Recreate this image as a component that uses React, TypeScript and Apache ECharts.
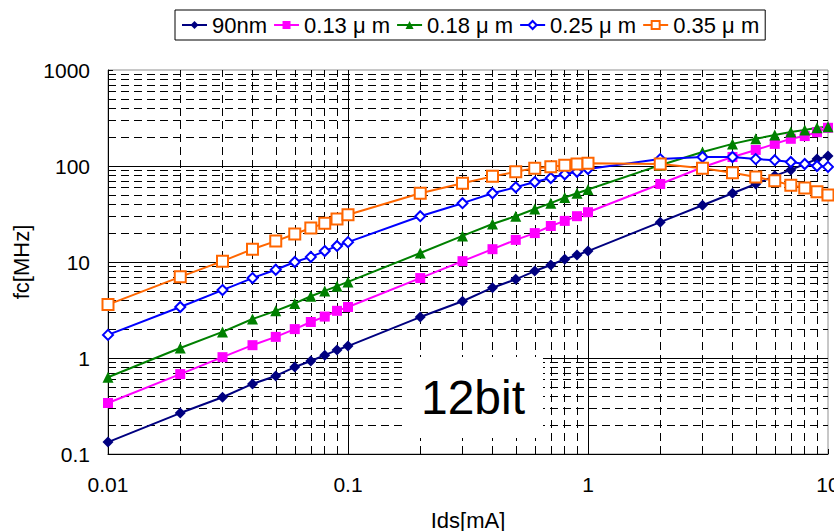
import React, { useEffect, useRef } from "react";
import * as echarts from "echarts";

const idsValues = [
  0.01, 0.02, 0.03, 0.04, 0.05, 0.06, 0.07, 0.08, 0.09, 0.1,
  0.2, 0.3, 0.4, 0.5, 0.6, 0.7, 0.8, 0.9, 1,
  2, 3, 4, 5, 6, 7, 8, 9, 10,
];

const fc90nm = [
  0.133, 0.267, 0.39, 0.537, 0.65, 0.805, 0.93, 1.07, 1.21, 1.33,
  2.67, 3.9, 5.4, 6.6, 8.05, 9.3, 10.7, 11.8, 13.0,
  26, 39, 52, 65, 79, 91, 105, 118, 127,
];
const fc013 = [
  0.34, 0.68, 1.02, 1.36, 1.66, 2.0, 2.37, 2.7, 3.1, 3.4,
  6.8, 10.2, 13.6, 17, 20, 23.7, 26.8, 30, 33,
  65, 97, 124, 147, 170, 192, 205, 225, 250,
];
const fc018 = [
  0.63, 1.27, 1.87, 2.55, 3.1, 3.7, 4.4, 5.0, 5.6, 6.2,
  12.4, 18.7, 24.9, 30, 35.6, 41, 47, 52, 57,
  102, 140, 170, 192, 210, 226, 237, 250, 256,
];
const fc025 = [
  1.74, 3.4, 5.1, 6.8, 8.3, 10, 11.3, 13, 14.7, 16.1,
  30, 41, 52, 60, 68, 75, 82, 87, 93,
  118, 124, 124, 118, 115, 110, 105, 100, 98,
];
const fc035 = [
  3.6, 7.0, 10.2, 13.6, 16.5, 19.6, 22.6, 25.4, 28, 31,
  52, 66, 78, 87, 95, 98, 102, 105, 107,
  105, 95, 85, 77, 70, 63, 59, 54, 50,
];

const seriesNames = ["90nm", "0.13μm", "0.18μm", "0.25μm", "0.35μm"];

const majorX = [0.1, 1];
const majorY = [1, 10, 100];
const minorX = [
  0.02, 0.03, 0.04, 0.05, 0.06, 0.07, 0.08, 0.09,
  0.2, 0.3, 0.4, 0.5, 0.6, 0.7, 0.8, 0.9,
  2, 3, 4, 5, 6, 7, 8, 9,
];
const minorY = [
  0.2, 0.3, 0.4, 0.5, 0.6, 0.7, 0.8, 0.9,
  2, 3, 4, 5, 6, 7, 8, 9,
  20, 30, 40, 50, 60, 70, 80, 90,
  200, 300, 400, 500, 600, 700, 800, 900,
];

const FONT = "'Liberation Sans', Arial, sans-serif";

function pairs(ys: number[]) {
  return idsValues.map((x, i) => [x, ys[i]]);
}

export default function App() {
  const ref = useRef<HTMLDivElement>(null);
  useEffect(() => {
    if (!ref.current) return;
    const chart = echarts.init(ref.current, null, { renderer: "svg" });

    const lineSeries = (
      name: string,
      ys: number[],
      color: string,
      symbol: string,
      size: number,
      empty: boolean
    ) => ({
      name,
      type: "line",
      data: pairs(ys),
      symbol,
      symbolSize: size,
      showAllSymbol: true,
      z: 5,
      lineStyle: { color, width: 2 },
      itemStyle: empty
        ? { color, borderColor: color, borderWidth: 1.5 }
        : { color, borderWidth: 0 },
      emphasis: { disabled: true },
    });

    const option: any = {
      animation: false,
      backgroundColor: "#fff",
      grid: {
        left: 108,
        right: 6,
        top: 70,
        bottom: 77,
        show: true,
        borderColor: "#909090",
        borderWidth: 1,
        backgroundColor: "transparent",
        containLabel: false,
        outerBoundsMode: "none",
      },
      legend: {
        data: seriesNames,
        left: 175,
        top: 10,
        padding: [4, 6, 4, 6],
        itemGap: 6,
        itemWidth: 25,
        itemHeight: 10,
        borderColor: "#000",
        borderWidth: 1,
        backgroundColor: "#fff",
        formatter: (name: string) => name.replace("μ", " μ "),
        textStyle: { fontSize: 22, color: "#000", fontFamily: FONT },
      },
      xAxis: {
        type: "log",
        logBase: 10,
        min: 0.01,
        max: 10,
        name: "Ids[mA]",
        nameLocation: "middle",
        nameGap: 55,
        nameTextStyle: { fontSize: 22, color: "#000", fontFamily: FONT },
        axisLine: { show: true, lineStyle: { color: "#000", width: 1 } },
        axisTick: { show: true, inside: true, length: 5, lineStyle: { color: "#000" } },
        axisLabel: {
          fontSize: 21,
          color: "#000",
          fontFamily: FONT,
          margin: 20,
          formatter: (v: number) => String(v),
        },
        splitLine: { show: false },
      },
      yAxis: {
        type: "log",
        logBase: 10,
        min: 0.1,
        max: 1000,
        name: "fc[MHz]",
        nameLocation: "middle",
        nameGap: 72,
        nameTextStyle: { fontSize: 22, color: "#000", fontFamily: FONT },
        axisLine: { show: true, lineStyle: { color: "#000", width: 1 } },
        axisTick: { show: true, inside: true, length: 5, lineStyle: { color: "#000" } },
        axisLabel: {
          fontSize: 21,
          color: "#000",
          fontFamily: FONT,
          margin: 18,
          formatter: (v: number) => String(v),
        },
        splitLine: { show: false },
      },
      series: [
        {
          name: "minorGrid",
          type: "line",
          data: [[0.01, 0.1]],
          showSymbol: false,
          silent: true,
          z: 1,
          lineStyle: { opacity: 0 },
          markLine: {
            silent: true,
            symbol: ["none", "none"],
            label: { show: false },
            lineStyle: { color: "#000", width: 1, type: [8, 5] },
            emphasis: { disabled: true },
            data: [
              ...minorX.map((v) => ({ xAxis: v })),
              ...minorY.map((v) => ({ yAxis: v })),
            ],
          },
        },
        {
          name: "majorGrid",
          type: "line",
          data: [[0.01, 0.1]],
          showSymbol: false,
          silent: true,
          z: 1,
          lineStyle: { opacity: 0 },
          markLine: {
            silent: true,
            symbol: ["none", "none"],
            label: { show: false },
            lineStyle: { color: "#000", width: 1, type: "solid" },
            emphasis: { disabled: true },
            data: [
              ...majorX.map((v) => ({ xAxis: v })),
              ...majorY.map((v) => ({ yAxis: v })),
            ],
          },
        },
        lineSeries(seriesNames[0], fc90nm, "#000080", "diamond", 11, false),
        lineSeries(seriesNames[1], fc013, "#FF00FF", "rect", 10, false),
        lineSeries(seriesNames[2], fc018, "#008000", "triangle", 11, false),
        lineSeries(seriesNames[3], fc025, "#0000FF", "emptyDiamond", 10, true),
        lineSeries(seriesNames[4], fc035, "#FF6600", "emptyRect", 11, true),
      ],
      graphic: [
        {
          type: "rect",
          z: 100,
          shape: { x: 402, y: 357, width: 141, height: 81 },
          style: { fill: "#fff" },
        },
        {
          type: "text",
          z: 101,
          x: 473,
          y: 397,
          style: {
            text: "12bit",
            fontSize: 48,
            fontFamily: FONT,
            fill: "#000",
            align: "center",
            verticalAlign: "middle",
            textAlign: "center",
            textVerticalAlign: "middle",
          },
        },
      ],
    };

    chart.setOption(option);
    return () => chart.dispose();
  }, []);

  return (
    <div
      ref={ref}
      style={{ position: "fixed", left: 0, top: 0, width: 834, height: 531, background: "#fff" }}
    />
  );
}
